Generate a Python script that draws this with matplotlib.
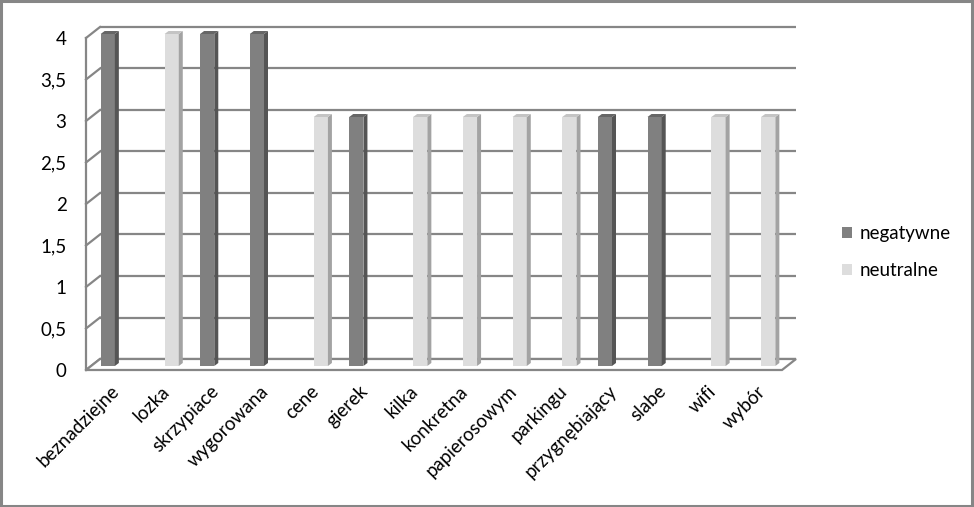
import matplotlib
matplotlib.use("Agg")
import matplotlib.pyplot as plt
from matplotlib.patches import Polygon, Rectangle, Patch

plt.rcParams['font.family'] = ['Lato', 'DejaVu Sans']

categories = ["beznadziejne", "lozka", "skrzypiace", "wygorowana", "cene", "gierek",
              "kilka", "konkretna", "papierosowym", "parkingu", "przygnębiający",
              "slabe", "wifi", "wybór"]
negatywne = [4, 0, 4, 4, 0, 3, 0, 0, 0, 0, 3, 3, 0, 0]
neutralne = [0, 4, 0, 0, 3, 0, 3, 3, 3, 3, 0, 0, 3, 3]
series_names = ["negatywne", "neutralne"]
yticks = [0, 0.5, 1, 1.5, 2, 2.5, 3, 3.5, 4]
ytick_labels = ["0", "0,5", "1", "1,5", "2", "2,5", "3", "3,5", "4"]

W, H = 974, 507
fig = plt.figure(figsize=(W / 100, H / 100), dpi=100)
n = len(categories)
# front plane pixels
x_left, x_right = 86, 782
y_bottom, y_top = 370, 38
ax = fig.add_axes([x_left / W, (H - y_bottom) / H, (x_right - x_left) / W, (y_bottom - y_top) / H])
ax.set_xlim(-0.5, n - 0.5)
ax.set_ylim(0, 4)
for s in ax.spines.values():
    s.set_visible(False)

px_x = (x_right - x_left) / n
px_y = (y_bottom - y_top) / 4.0
# depth offsets (data units)
wdx, wdy = 14 / px_x, 11 / px_y      # wall depth
bdx, bdy = 4 / px_x, 4 / px_y        # bar front-plane offset
sdx, sdy = 4 / px_x, 3 / px_y        # bar side depth

gcol = "#868686"
glw = 1.6
x0, x1 = -0.5, n - 0.5
# back wall gridlines and left wall
for yv in yticks:
    ax.plot([x0 + wdx, x1 + wdx], [yv + wdy, yv + wdy], color=gcol, lw=glw, zorder=1, clip_on=False,
            solid_capstyle='butt')
    ax.plot([x0, x0 + wdx], [yv, yv + wdy], color=gcol, lw=glw, zorder=1, clip_on=False)
ax.plot([x0, x0], [0, 4], color=gcol, lw=glw, zorder=1, clip_on=False)
# floor
floor = Polygon([[x0, 0], [x1, 0], [x1 + wdx, wdy], [x0 + wdx, wdy]], closed=True,
                facecolor="white", edgecolor=gcol, lw=glw, zorder=1.5, clip_on=False)
ax.add_patch(floor)

w = 1 / 3.5
styles = [
    ("#808080", "#555555", "#666666"),
    ("#DDDDDD", "#A3A3A3", "#C4C4C4"),
]


def draw_bar(xl, v, cols):
    front, side, top = cols
    xl = xl + bdx
    yb = bdy
    yt = v + bdy
    ax.add_patch(Polygon([[xl, yb], [xl + w, yb], [xl + w, yt], [xl, yt]], closed=True,
                         facecolor=front, edgecolor='none', zorder=3, clip_on=False))
    ax.add_patch(Polygon([[xl + w, yb], [xl + w + sdx, yb + sdy], [xl + w + sdx, yt + sdy], [xl + w, yt]],
                         closed=True, facecolor=side, edgecolor='none', zorder=3, clip_on=False))
    ax.add_patch(Polygon([[xl, yt], [xl + w, yt], [xl + w + sdx, yt + sdy], [xl + sdx, yt + sdy]],
                         closed=True, facecolor=top, edgecolor='none', zorder=3, clip_on=False))


for i in range(n):
    if negatywne[i]:
        draw_bar(i - w, negatywne[i], styles[0])
    if neutralne[i]:
        draw_bar(i, neutralne[i], styles[1])

fs = 13.5
ax.set_yticks(yticks)
ax.set_yticklabels(ytick_labels, fontsize=fs)
ax.set_xticks(range(n))
ax.set_xticklabels(categories, rotation=45, ha='right', rotation_mode='anchor', fontsize=fs)
ax.tick_params(axis='y', length=0, pad=14)
ax.tick_params(axis='x', length=0, pad=9)

handles = [Patch(facecolor=styles[0][0], edgecolor='none'), Patch(facecolor=styles[1][0], edgecolor='none')]
fig.legend(handles, series_names, loc='center left', bbox_to_anchor=(842 / W, 1 - 252 / H),
           frameon=False, fontsize=fs, handlelength=0.55, handleheight=0.55, handletextpad=0.4,
           labelspacing=1.05, borderaxespad=0, borderpad=0)

fig.patches.append(Rectangle((0.001, 0.002), 0.997, 0.996, transform=fig.transFigure, fill=False,
                             edgecolor="#868686", lw=2.2))

fig.savefig("out.png", dpi=100)
